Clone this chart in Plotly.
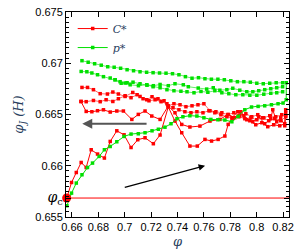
import plotly.graph_objects as go

RED = "#ff0000"
GREEN = "#00e000"

phi_c = 0.6560
phiJ_c = 0.65685

# ---- p* (green) series ----
g1_phi = [0.6676,0.6723,0.6772,0.6822,0.6871,0.6920,0.6969,0.7018,0.7067,0.7116,0.7166,0.7215,0.7264,0.7313,0.7362,0.7411,0.7460,0.7510,0.7559,0.7608,0.7657,0.7706,0.7755,0.7804,0.7854,0.7903,0.7952,0.8001,0.8050,0.8099,0.8148,0.8197]
g1_val = [0.67025,0.67010,0.66995,0.66981,0.66966,0.66961,0.66951,0.66937,0.66927,0.66917,0.66912,0.66908,0.66905,0.66903,0.66898,0.66888,0.66869,0.66854,0.66859,0.66849,0.66844,0.66844,0.66839,0.66829,0.66820,0.66820,0.66815,0.66805,0.66800,0.66805,0.66810,0.66810]

g2_phi = [0.6670,0.6713,0.6751,0.6794,0.6839,0.6890,0.6927,0.6965,0.7003,0.7041,0.7104,0.7167,0.7217,0.7268,0.7330,0.7381,0.7444,0.7482,0.7557,0.7621,0.7671,0.7721,0.7774,0.7819,0.7872,0.7925,0.7971,0.8016,0.8061,0.8107,0.8152,0.8197]
g2_val = [0.66920,0.66917,0.66905,0.66888,0.66869,0.66856,0.66839,0.66820,0.66807,0.66790,0.66781,0.66790,0.66781,0.66793,0.66781,0.66800,0.66790,0.66771,0.66758,0.66748,0.66761,0.66737,0.66742,0.66756,0.66737,0.66722,0.66722,0.66732,0.66742,0.66751,0.66761,0.66771]

g2b_phi = [0.6927,0.6973,0.7018,0.7063,0.7116,0.7169,0.7215,0.7268,0.7320,0.7373,0.7426,0.7472,0.7525,0.7578,0.7630,0.7683,0.7736,0.7789,0.7842,0.7895,0.7948,0.8001,0.8054,0.8107,0.8152,0.8197]
g2b_val = [0.66839,0.66805,0.66810,0.66815,0.66800,0.66786,0.66771,0.66761,0.66742,0.66732,0.66727,0.66722,0.66712,0.66725,0.66717,0.66732,0.66712,0.66703,0.66693,0.66693,0.66688,0.66688,0.66698,0.66707,0.66712,0.66722]

g3_phi = [0.6562,0.6597,0.6633,0.6676,0.6718,0.6756,0.6806,0.6846,0.6890,0.6940,0.6995,0.7048,0.7103,0.7154,0.7207,0.7255,0.7305,0.7351,0.7396,0.7441,0.7494,0.7547,0.7600,0.7653,0.7706,0.7759,0.7812,0.7859,0.7910,0.7961,0.8011,0.8061,0.8112,0.8162,0.8200,0.8224,0.8224]
g3_val = [0.65610,0.65733,0.65831,0.65912,0.65983,0.66026,0.66091,0.66156,0.66188,0.66234,0.66286,0.66309,0.66312,0.66322,0.66341,0.66356,0.66376,0.66410,0.66459,0.66478,0.66488,0.66485,0.66468,0.66452,0.66449,0.66446,0.66429,0.66481,0.66546,0.66573,0.66579,0.66585,0.66595,0.66605,0.66612,0.66644,0.66810]

# ---- C* (red) series ----
r1_phi = [0.6676,0.6718,0.6763,0.6814,0.6869,0.6910,0.6952,0.7003,0.7061,0.7116,0.7167,0.7207,0.7252,0.7298,0.7328,0.7373,0.7419,0.7464,0.7510,0.7555,0.7600,0.7646,0.7691,0.7736,0.7782,0.7827,0.7872,0.7918,0.7963,0.8008,0.8054,0.8099,0.8145,0.8190,0.8220]
r1_val = [0.66764,0.66764,0.66742,0.66703,0.66700,0.66719,0.66700,0.66676,0.66715,0.66676,0.66644,0.66673,0.66654,0.66634,0.66585,0.66605,0.66595,0.66576,0.66585,0.66595,0.66605,0.66537,0.66527,0.66517,0.66498,0.66517,0.66488,0.66507,0.66478,0.66498,0.66468,0.66488,0.66478,0.66498,0.66488]

r2_phi = [0.6670,0.6708,0.6763,0.6814,0.6859,0.6910,0.6952,0.7003,0.7048,0.7094,0.7139,0.7184,0.7230,0.7275,0.7320,0.7366,0.7411,0.7456,0.7502,0.7547,0.7593,0.7638,0.7683,0.7729,0.7774,0.7819,0.7865,0.7910,0.7956,0.8001,0.8046,0.8092,0.8137,0.8182,0.8220]
r2_val = [0.66627,0.66625,0.66637,0.66625,0.66644,0.66627,0.66654,0.66683,0.66664,0.66693,0.66654,0.66634,0.66644,0.66625,0.66605,0.66566,0.66546,0.66527,0.66517,0.66527,0.66517,0.66537,0.66517,0.66498,0.66478,0.66459,0.66478,0.66459,0.66468,0.66449,0.66468,0.66439,0.66459,0.66439,0.66478]

r3_phi = [0.6668,0.6708,0.6751,0.6794,0.6839,0.6890,0.6940,0.6990,0.7054,0.7103,0.7154,0.7205,0.7268,0.7330,0.7381,0.7432,0.7494,0.7570,0.7646,0.7721,0.7784,0.7834,0.7880,0.7925,0.7971,0.8016,0.8061,0.8107,0.8122,0.8152,0.8182,0.8213,0.8220]
r3_val = [0.66627,0.66530,0.66527,0.66537,0.66546,0.66524,0.66534,0.66534,0.66452,0.66501,0.66534,0.66485,0.66452,0.66583,0.66517,0.66403,0.66378,0.66387,0.66436,0.66452,0.66501,0.66468,0.66527,0.66449,0.66429,0.66478,0.66410,0.66459,0.66546,0.66429,0.66468,0.66390,0.66517]

r4_phi = [0.6561,0.6597,0.6633,0.6670,0.6708,0.6746,0.6794,0.6846,0.6890,0.6940,0.6995,0.7048,0.7099,0.7154,0.7217,0.7268,0.7330,0.7381,0.7432,0.7494,0.7550,0.7608,0.7658,0.7708,0.7759,0.7784,0.7812,0.7857,0.7903,0.7948,0.7993,0.8039,0.8084,0.8129,0.8175,0.8213,0.8220]
r4_val = [0.65685,0.65837,0.65934,0.66032,0.65983,0.66156,0.66114,0.66075,0.66237,0.66341,0.66302,0.66178,0.66254,0.66273,0.66215,0.66300,0.66573,0.66436,0.66322,0.66192,0.66192,0.66257,0.66241,0.66257,0.66290,0.66403,0.66468,0.66527,0.66488,0.66439,0.66400,0.66420,0.66381,0.66400,0.66390,0.66410,0.66546]

x_ticks = [0.66, 0.68, 0.70, 0.72, 0.74, 0.76, 0.78, 0.80, 0.82]
x_labels = ["0.66", "0.68", "0.7", "0.72", "0.74", "0.76", "0.78", "0.8", "0.82"]
y_ticks = [0.655, phiJ_c, 0.66, 0.665, 0.67, 0.675]
y_labels = ["0.655", "<span style='font-family:DejaVu Serif;font-size:14px'><i>φ</i><sub>c</sub></span>", "0.66", "0.665", "0.67", "0.675"]

x_range = [0.6555, 0.8245]
y_range = [0.655, 0.675]

fig = go.Figure()

def add(xs, ys, color, width, name=None, show=False):
    fig.add_trace(go.Scatter(
        x=xs, y=ys, mode="lines+markers", name=name, showlegend=show,
        line=dict(color=color, width=width),
        marker=dict(symbol="square", size=3.5, color=color),
    ))

# phi_c horizontal line
fig.add_trace(go.Scatter(x=x_range, y=[phiJ_c, phiJ_c], mode="lines",
                         line=dict(color=RED, width=1), showlegend=False))

add(r4_phi, r4_val, RED, 1.0, "<i>C</i>*", True)
add(r3_phi, r3_val, RED, 1.0)
add(r2_phi, r2_val, RED, 0.6)
add(r1_phi, r1_val, RED, 0.6)
add(g3_phi, g3_val, GREEN, 1.0, "<i>p</i>*", True)
add(g2_phi, g2_val, GREEN, 0.6)
add(g2b_phi, g2b_val, GREEN, 0.6)
add(g1_phi, g1_val, GREEN, 0.6)

# phi_c point
fig.add_trace(go.Scatter(x=[phi_c], y=[phiJ_c], mode="markers",
                         marker=dict(color=RED, size=9), showlegend=False, cliponaxis=False))

# arrows
fig.add_annotation(x=0.6678, y=0.66410, ax=0.7177, ay=0.66410, xref="x", yref="y",
                   axref="x", ayref="y", showarrow=True, arrowhead=2, arrowsize=1,
                   arrowwidth=2, arrowcolor="#555555", text="")
fig.add_annotation(x=0.7609, y=0.66000, ax=0.6989, ay=0.65785, xref="x", yref="y",
                   axref="x", ayref="y", showarrow=True, arrowhead=2, arrowsize=1,
                   arrowwidth=1.3, arrowcolor="#000000", text="")

axis_common = dict(showline=True, linecolor="black", linewidth=1, mirror="allticks",
                   ticks="inside", ticklen=5, tickcolor="black", showgrid=False,
                   zeroline=False, automargin=False,
                   tickfont=dict(family="Liberation Sans", size=11, color="black"))

fig.update_xaxes(range=x_range, tickvals=x_ticks, ticktext=x_labels,
                 title=dict(text="<i>φ</i>", font=dict(family="DejaVu Serif", size=13), standoff=6),
                 **axis_common)
fig.update_yaxes(range=y_range, tickvals=y_ticks, ticktext=y_labels,
                 minor=dict(ticks="inside", ticklen=3, dtick=0.0005, tickcolor="black"),
                 title=dict(text="<i>φ<sub>J</sub> (H)</i>", font=dict(family="DejaVu Serif", size=13), standoff=8),
                 **axis_common)

fig.update_layout(
    width=305, height=249,
    margin=dict(l=66, r=16, t=12, b=32, autoexpand=False),
    paper_bgcolor="white", plot_bgcolor="white",
    legend=dict(x=0.03, y=0.99, xanchor="left", yanchor="top", bgcolor="rgba(0,0,0,0)",
                font=dict(family="DejaVu Serif", size=11), itemwidth=30, tracegroupgap=0),
)

fig.write_html("out.html", config={"displayModeBar": False},
               post_script="document.body.style.margin='0px';document.body.style.overflow='hidden';")
